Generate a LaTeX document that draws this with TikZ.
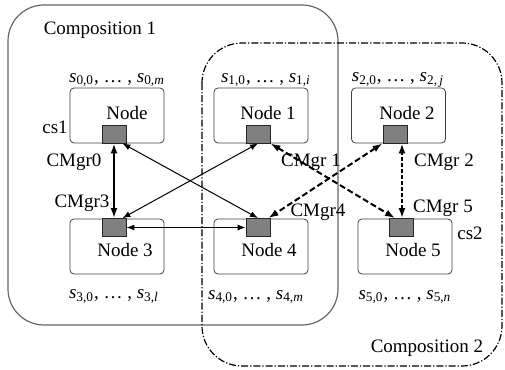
\documentclass[tikz,border=0pt]{standalone}
\usepackage{fontspec}
\setmainfont{Liberation Serif}
\usetikzlibrary{arrows.meta}

\newcommand{\slist}[3]{\textit{s}\textsubscript{#1,0}, \ldots\ , \textit{s}\textsubscript{#2,\textit{#3}}}

\begin{document}
\begin{tikzpicture}
    [x=0.5pt,y=-0.5pt,
    font=\fontsize{9.5}{11}\selectfont,
    host/.style = {draw=black!75, rounded corners=2pt,
                   minimum width=47pt, minimum height=27.5pt, inner sep=0pt},
    mgr/.style = {draw=black!85, fill=black!50,
                  minimum width=12pt, minimum height=9pt, inner sep=0pt},
    link/.style = {{Latex[length=4pt,width=3pt]}-{Latex[length=4pt,width=3pt]}, line width=0.5pt},
    boldlink/.style = {{Latex[length=5pt,width=3.5pt]}-{Latex[length=5pt,width=3.5pt]}, line width=1pt},
    remote/.style = {boldlink, dash pattern=on 3pt off 1.5pt}]
    \useasboundingbox (0,0) rectangle (505,370);
    % Composition 1
    \draw[black!60, line width=0.6pt, rounded corners=18pt] (8,5) rectangle (338,325);
    % Composition 2
    \draw[line width=0.6pt, rounded corners=20pt,
          dash pattern=on 3.5pt off 1pt on 0.6pt off 1pt] (202,43) rectangle (502,366);
    \node (c1) at (100,30) {Composition 1};
    \node (c2) at (427,348) {Composition 2};
    % Nodes
    \node[host] (n0) at (117,115.5) {};
    \node[host] (n1) at (261,115.5) {};
    \node[host] (n2) at (398.5,115.5) {};
    \node[host] (n3) at (117,246.5) {};
    \node[host] (n4) at (261,246.5) {};
    \node[host] (n5) at (405,246.5) {};
    \node (t0) at (127,113) {Node};
    \node (t1) at (268,113) {Node 1};
    \node (t2) at (407,113) {Node 2};
    \node (t3) at (125,250) {Node 3};
    \node (t4) at (269,250) {Node 4};
    \node (t5) at (413,250) {Node 5};
    % Managers
    \node[mgr] (cm0) at (114,134) {};
    \node[mgr] (cm1) at (258,134) {};
    \node[mgr] (cm2) at (395,134) {};
    \node[mgr] (cm3) at (114,227.5) {};
    \node[mgr] (cm4) at (258,227.5) {};
    \node[mgr] (cm5) at (401,227.5) {};
    % State sets
    \node (s0) at (117,80) {\slist{0}{0}{m}};
    \node (s1) at (266,80) {\slist{1}{1}{i}};
    \node (s2) at (398,80) {\textit{s}\textsubscript{2,0}, \ldots\ , \textit{s}\textsubscript{2,\,\textit{j}}};
    \node (s3) at (114,297) {\slist{3}{3}{l}};
    \node (s4) at (256,297) {\slist{4}{4}{m}};
    \node (s5) at (405,297) {\slist{5}{5}{n}};
    \node (cs1) at (55,127) {cs1};
    \node (cs2) at (470,233) {cs2};
    % Manager labels
    \node (g0) at (74,162) {CMgr0};
    \node (g1) at (311,162) {CMgr 1};
    \node (g2) at (444,162) {CMgr 2};
    \node (g3) at (82,203) {CMgr3};
    \node (g4) at (318,212) {CMgr4};
    \node (g5) at (443,208) {CMgr 5};
    % Links inside composition 1
    \draw[boldlink] (cm0.south) -- (cm3.north);
    \draw[link] ([xshift=-2pt]cm0.south east) -- (cm4.north);
    \draw[link] (cm1.south) -- ([xshift=-2pt]cm3.north east);
    \draw[link] (cm3.east) -- (cm4.west);
    % Links inside composition 2
    \draw[remote] (cm1.south east) -- ([xshift=-3pt]cm5.north);
    \draw[remote] (cm2.south west) -- ([xshift=-1pt]cm4.north east);
    \draw[boldlink, line width=1.3pt, dash pattern=on 2pt off 1pt]
        (cm5.north -| 402,0) -- (cm2.south -| 402,0);
\end{tikzpicture}
\end{document}
